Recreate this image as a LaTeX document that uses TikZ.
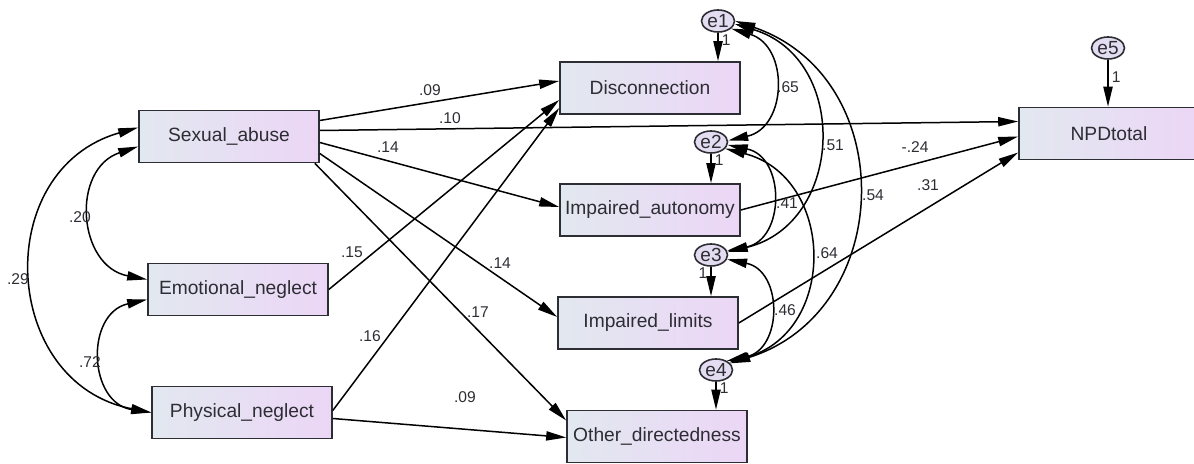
\documentclass[tikz,border=0pt]{standalone}
\usepackage{fontspec}
\setmainfont{Liberation Sans}
\usetikzlibrary{arrows.meta,shapes.geometric,calc}

\definecolor{boxleft}{RGB}{226,232,240}
\definecolor{boxright}{RGB}{236,214,246}
\definecolor{errfill}{RGB}{228,220,240}
\definecolor{inkgray}{RGB}{45,45,52}

\begin{document}
\begin{tikzpicture}[x=0.5pt,y=-0.5pt,
    obs/.style={draw=inkgray,line width=0.8pt,left color=boxleft,right color=boxright,
      minimum width=90pt,minimum height=26pt,inner sep=0pt,
      font=\fontsize{9.6}{11}\selectfont,text=inkgray},
    err/.style={ellipse,draw=inkgray,line width=0.8pt,fill=errfill,
      minimum width=16.5pt,minimum height=11pt,inner sep=0pt,
      font=\fontsize{9.5}{10}\selectfont,text=inkgray},
    coef/.style={font=\fontsize{7.8}{9}\selectfont,text=inkgray,inner sep=1pt},
    reg/.style={-{Triangle[length=10pt,width=4.6pt]},line width=0.75pt},
    cov/.style={{Triangle[length=10pt,width=4.6pt]}-{Triangle[length=10pt,width=4.6pt]},line width=0.75pt}]

    \useasboundingbox (0,0) rectangle (1194,464);

    % observed variables
    \node [obs] (sa)  at (229,136.5) {Sexual\_abuse};
    \node [obs] (en)  at (238,289.5) {Emotional\_neglect};
    \node [obs] (pn)  at (242,412.5) {Physical\_neglect};
    \node [obs] (dis) at (650,88)    {Disconnection};
    \node [obs] (ia)  at (650,210)   {Impaired\_autonomy};
    \node [obs] (il)  at (648,323)   {Impaired\_limits};
    \node [obs] (od)  at (657,436.5) {Other\_directedness};
    \node [obs] (npd) at (1109,133.5) {NPDtotal};

    % error terms
    \node [err] (e1) at (718,21)  {e1};
    \node [err] (e2) at (711,142) {e2};
    \node [err] (e3) at (711,255) {e3};
    \node [err] (e4) at (716,370) {e4};
    \node [err] (e5) at (1108,48) {e5};

    \draw [reg] (e1) -- (e1 |- dis.north) node [coef,pos=0.25,right,xshift=0.5pt] (w1) {1};
    \draw [reg] (e2) -- (e2 |- ia.north)  node [coef,pos=0.23,right,xshift=0.5pt] (w2) {1};
    \draw [reg] (e3) -- (e3 |- il.north)  node [coef,pos=0.2,left,xshift=-0.5pt] (w3) {1};
    \draw [reg] (e4) -- (e4 |- od.north)  node [coef,pos=0.24,right,xshift=0.5pt] (w4) {1};
    \draw [reg] (e5) -- (e5 |- npd.north) node [coef,pos=0.38,right,xshift=0.5pt] (w5) {1};

    % regression paths
    \draw [reg] ($(sa.east)+(0,-16)$) -- ($(dis.west)+(0,-7)$);
    \draw [reg] ($(sa.east)+(0,-6)$)  -- ($(npd.west)+(0,-12)$);
    \draw [reg] ($(sa.east)+(0,6)$)   -- ($(ia.west)+(0,-3)$);
    \draw [reg] ($(sa.east)+(0,17)$)  -- ($(il.west)+(0,-6)$);
    \draw [reg] ($(sa.south east)+(-5,0)$) -- ($(od.west)+(0,-16)$);
    \draw [reg] (en.east) -- ($(dis.west)+(0,12)$);
    \draw [reg] ($(pn.east)+(0,-2)$) -- ($(dis.west)+(0,20)$);
    \draw [reg] ($(pn.east)+(0,6)$)  -- ($(od.west)+(0,1)$);
    \draw [reg] (ia.east) -- ($(npd.west)+(0,3)$);
    \draw [reg] (il.east) -- ($(npd.west)+(0,19)$);

    \node [coef] (b1)  at (430,90)  {.09};
    \node [coef] (b2)  at (450,118) {.10};
    \node [coef] (b3)  at (388,147) {.14};
    \node [coef] (b4)  at (500,263) {.14};
    \node [coef] (b5)  at (478,312) {.17};
    \node [coef] (b6)  at (352,252) {.15};
    \node [coef] (b7)  at (370,336) {.16};
    \node [coef] (b8)  at (465,397) {.09};
    \node [coef] (b9)  at (915,147) {-.24};
    \node [coef] (b10) at (928,185) {.31};

    % covariances, exogenous
    \draw [cov] ($(sa.west)+(0,-9)$) .. controls +(-148,42) and +(-151,-29) .. (pn.west);
    \draw [cov] ($(sa.west)+(0,10)$) .. controls +(-67.5,22.5) and +(-69.9,-13.1) .. ($(en.west)+(0,-10)$);
    \draw [cov] ($(en.west)+(0,10)$) .. controls +(-62.3,13.9) and +(-63.1,-9.6) .. (pn.west);

    \node [coef] (r1) at (18,279)  {.29};
    \node [coef] (r2) at (80,217)  {.20};
    \node [coef] (r3) at (90,362)  {.72};

    % covariances, error terms
    \draw [cov] (e1.-30) .. controls +(58.2,17.4)  and +(59.2,-13.2)  .. (e2.5);
    \draw [cov] (e1.-10) .. controls +(115.2,34.8) and +(116.8,-28.7) .. (e3.10);
    \draw [cov] (e1.0)   .. controls +(164.8,56.4) and +(166,-52.6)   .. (e4.25);
    \draw [cov] (e2.-10) .. controls +(57.9,12)    and +(58.1,-11)    .. (e3.15);
    \draw [cov] (e2.-25) .. controls +(109.8,28)   and +(108.7,-32)   .. (e4.30);
    \draw [cov] (e3.-15) .. controls +(56,11.5)    and +(56,-11.5)    .. (e4.40);

    \node [coef] (c1) at (788,87)  {.65};
    \node [coef] (c2) at (833,145) {.51};
    \node [coef] (c3) at (873,195) {.54};
    \node [coef] (c4) at (787,203) {.41};
    \node [coef] (c5) at (827,253) {.64};
    \node [coef] (c6) at (785,310) {.46};

\end{tikzpicture}
\end{document}
